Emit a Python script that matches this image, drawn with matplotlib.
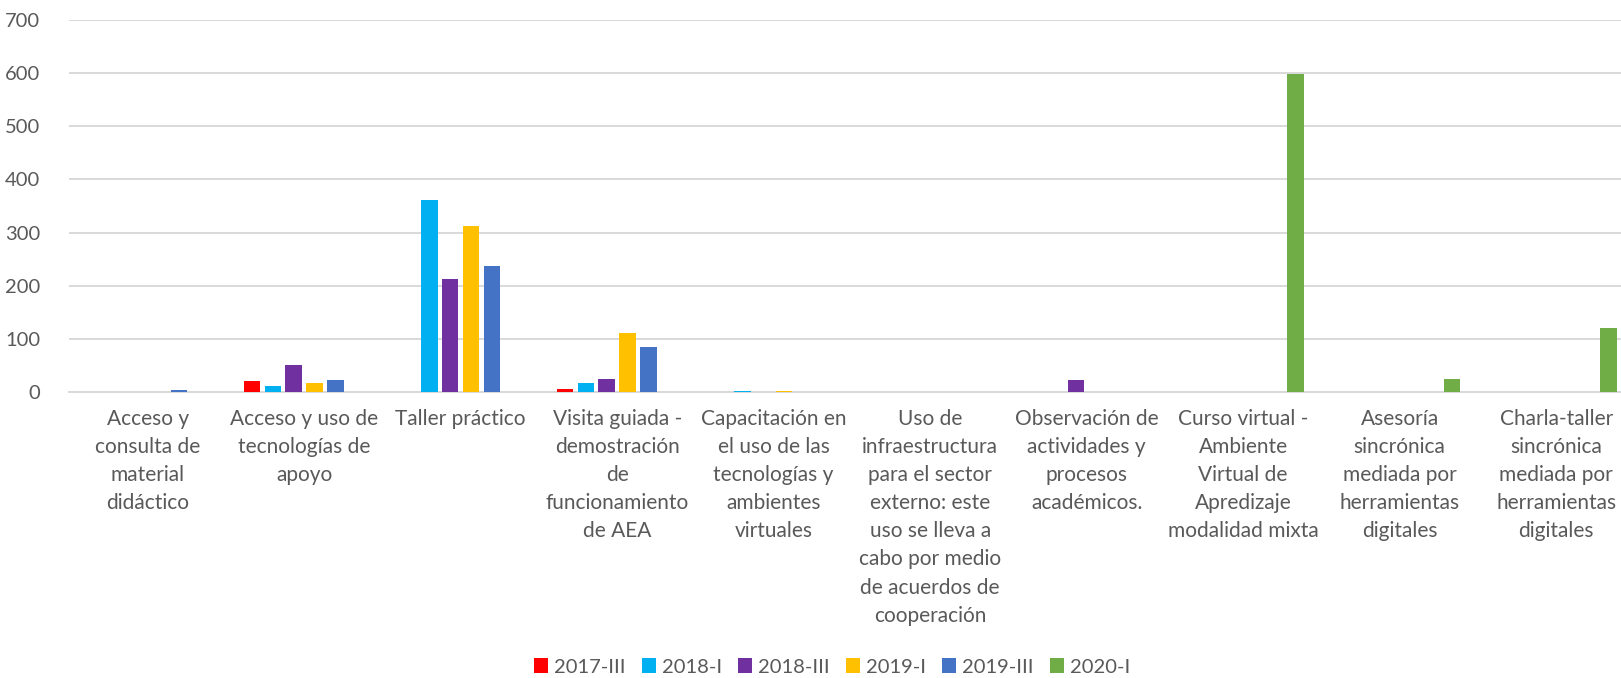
import matplotlib
matplotlib.use("Agg")
import matplotlib.pyplot as plt
import numpy as np

categories = [
    "Acceso y\nconsulta de\nmaterial\ndidáctico",
    "Acceso y uso de\ntecnologías de\napoyo",
    "Taller práctico",
    "Visita guiada -\ndemostración\nde\nfuncionamiento\nde AEA",
    "Capacitación en\nel uso de las\ntecnologías y\nambientes\nvirtuales",
    "Uso de\ninfraestructura\npara el sector\nexterno: este\nuso se lleva a\ncabo por medio\nde acuerdos de\ncooperación",
    "Observación de\nactividades y\nprocesos\nacadémicos.",
    "Curso virtual -\nAmbiente\nVirtual de\nApredizaje\nmodalidad mixta",
    "Asesoría\nsincrónica\nmediada por\nherramientas\ndigitales",
    "Charla-taller\nsincrónica\nmediada por\nherramientas\ndigitales",
]

series_names = ["2017-III", "2018-I", "2018-III", "2019-I", "2019-III", "2020-I"]
s2017_III = [0, 20, 0, 5, 0, 0, 0, 0, 0, 0]
s2018_I = [0, 12, 362, 16, 1, 0, 0, 0, 0, 0]
s2018_III = [0, 50, 213, 25, 0, 0, 23, 0, 0, 0]
s2019_I = [0, 16, 313, 111, 1, 0, 0, 0, 0, 0]
s2019_III = [3, 23, 237, 84, 0, 0, 0, 0, 0, 0]
s2020_I = [0, 0, 0, 0, 0, 0, 0, 598, 24, 120]
series = [s2017_III, s2018_I, s2018_III, s2019_I, s2019_III, s2020_I]
colors = ["#FF0000", "#00B0F0", "#7030A0", "#FFC000", "#4472C4", "#70AD47"]
yticks = [0, 100, 200, 300, 400, 500, 600, 700]

plt.rcParams['font.family'] = ['Lato', 'DejaVu Sans']
text_color = "#595959"
grid_color = "#D9D9D9"
fs = 14.5

fig = plt.figure(figsize=(16.21, 6.78), dpi=100)
W, H = 1621, 678
left_px, right_px = 69.4, 69.4 + 1565
bottom_px, top_px = 392, 20
ax = fig.add_axes([left_px / W, (H - bottom_px) / H,
                   (right_px - left_px) / W, (bottom_px - top_px) / H])

x = np.arange(len(categories))
step = 0.1335
bw = 0.105
for i, (name, vals, c) in enumerate(zip(series_names, series, colors)):
    vals = np.array(vals, dtype=float)
    heights = np.where(vals > 0, vals, np.nan)
    ax.bar(x + (i - 2.5) * step, heights, width=bw, color=c, label=name,
           edgecolor='none', zorder=3)

ax.set_xlim(-0.5, len(categories) - 0.5)
ax.set_ylim(0, 700)
ax.set_yticks(yticks)
ax.set_yticklabels([str(t) for t in yticks])
ax.yaxis.grid(True, color=grid_color, linewidth=1.4, zorder=0)
ax.set_axisbelow(True)
for s in ["top", "right", "left"]:
    ax.spines[s].set_visible(False)
ax.spines["bottom"].set_color(grid_color)
ax.spines["bottom"].set_linewidth(1.4)
ax.tick_params(axis='y', length=0, pad=21, labelsize=fs, labelcolor=text_color)
ax.set_xticks(x)
ax.set_xticklabels(categories, fontsize=15, color=text_color,
                   linespacing=1.51, va='top', ha='center')
ax.tick_params(axis='x', length=0, pad=12)

leg = fig.legend(loc='center', bbox_to_anchor=(832 / W, (H - 667) / H), ncol=6,
                 frameon=False, fontsize=fs, handlelength=0.7, handleheight=0.7,
                 handletextpad=0.3, columnspacing=0.8)
for t in leg.get_texts():
    t.set_color(text_color)

fig.savefig("out.png", dpi=100)
